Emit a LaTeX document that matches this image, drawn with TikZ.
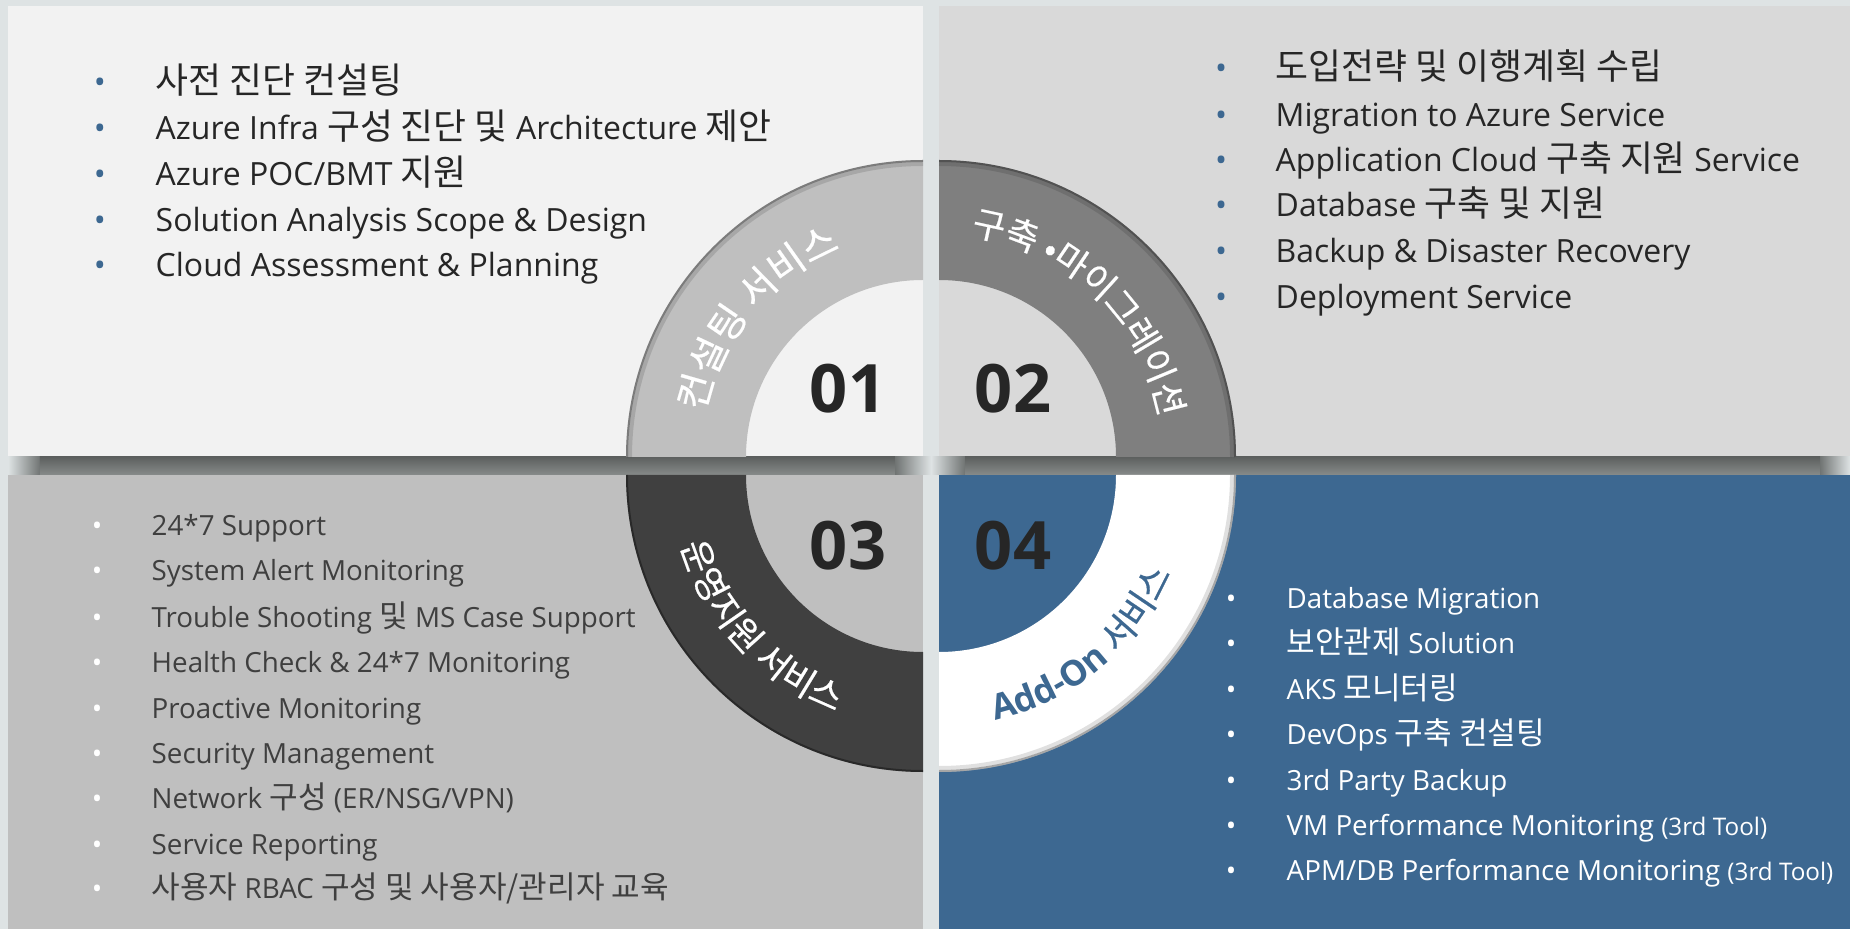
\documentclass[tikz,border=0pt]{standalone}
\usepackage{fontspec}
\setmainfont{Open Sans}
\newfontfamily\kr[Scale=1.12]{Noto Sans CJK KR}
\newfontfamily\krb[Scale=1.12, FakeBold=0.5]{Noto Sans CJK KR}
\usetikzlibrary{decorations.text}

\definecolor{bgc}{HTML}{DEE3E4}
\definecolor{paneltl}{HTML}{F2F2F2}
\definecolor{paneltr}{HTML}{D9D9D9}
\definecolor{panelbl}{HTML}{BFBFBF}
\definecolor{panelbr}{HTML}{3D6891}
\definecolor{ringtl}{HTML}{BFBFBF}
\definecolor{ringtr}{HTML}{7F7F7F}
\definecolor{ringbl}{HTML}{404040}
\definecolor{bandtop}{HTML}{5D605F}
\definecolor{bandbot}{HTML}{878B8A}
\definecolor{bandmid}{HTML}{707473}
\definecolor{ink}{HTML}{262626}
\definecolor{inkbl}{HTML}{3F3F3F}

\newcommand\ringtxt{\krb\fontsize{9}{11}\selectfont}
\newcommand\bigringtxt{\krb\fontsize{9.8}{12}\selectfont}
\newcommand\tooltxt{\fontsize{6.9}{8}\selectfont}

\tikzset{
  item/.style={anchor=base west, inner sep=0pt, font=\fontsize{9.1}{11}\selectfont, text=ink},
  smallitem/.style={item, font=\fontsize{7.9}{9.5}\selectfont},
  dot/.style={anchor=base, inner sep=0pt, font=\fontsize{9.1}{11}\selectfont, text=panelbr},
  smalldot/.style={dot, font=\fontsize{7.9}{9.5}\selectfont, text=white},
  num/.style={inner sep=0pt, font=\fontsize{19}{22}\selectfont\bfseries, text=ink},
  rim/.style={black, line width=0.02cm, opacity=0.35},
  softrim/.style={black, line width=0.04cm, opacity=0.12},
}

\begin{document}
\begin{tikzpicture}
\useasboundingbox (0,0) rectangle (18.5,9.29);
\fill[bgc] (0,0) rectangle (18.5,9.29);

\coordinate (c1) at (9.23,4.72);
\coordinate (c2) at (9.39,4.72);
\coordinate (c3) at (9.23,4.54);
\coordinate (c4) at (9.39,4.54);

\fill[paneltl] (0.08,4.72) rectangle (9.23,9.23);
\fill[paneltr] (9.39,4.72) rectangle (18.5,9.23);
\fill[panelbl] (0.08,0) rectangle (9.23,4.54);
\fill[panelbr] (9.39,0) rectangle (18.5,4.54);

\shade[left color=bgc, right color=bandmid] (0.08,4.54) rectangle (0.40,4.72);
\shade[top color=bandtop, bottom color=bandbot] (0.40,4.54) rectangle (8.95,4.72);
\shade[left color=bandmid, right color=bgc] (8.95,4.54) rectangle (9.31,4.72);
\shade[left color=bgc, right color=bandmid] (9.31,4.54) rectangle (9.65,4.72);
\shade[top color=bandtop, bottom color=bandbot] (9.65,4.54) rectangle (18.2,4.72);
\shade[left color=bandmid, right color=bgc] (18.2,4.54) rectangle (18.5,4.72);

\fill[ringtl] ([shift={(180:2.97)}]c1) arc[start angle=180, end angle=90, radius=2.97]
  -- ([shift={(90:1.77)}]c1) arc[start angle=90, end angle=180, radius=1.77] -- cycle;
\fill[ringtr] ([shift={(90:2.97)}]c2) arc[start angle=90, end angle=0, radius=2.97]
  -- ([shift={(0:1.77)}]c2) arc[start angle=0, end angle=90, radius=1.77] -- cycle;
\fill[ringbl] ([shift={(180:2.97)}]c3) arc[start angle=180, end angle=270, radius=2.97]
  -- ([shift={(270:1.77)}]c3) arc[start angle=270, end angle=180, radius=1.77] -- cycle;
\fill[white] ([shift={(270:2.97)}]c4) arc[start angle=270, end angle=360, radius=2.97]
  -- ([shift={(0:1.77)}]c4) arc[start angle=0, end angle=-90, radius=1.77] -- cycle;

\draw[rim] ([shift={(180:2.96)}]c1) arc[start angle=180, end angle=90, radius=2.96];
\draw[softrim] ([shift={(180:2.93)}]c1) arc[start angle=180, end angle=90, radius=2.93];
\draw[rim] ([shift={(90:2.96)}]c2) arc[start angle=90, end angle=0, radius=2.96];
\draw[softrim] ([shift={(90:2.93)}]c2) arc[start angle=90, end angle=0, radius=2.93];
\draw[rim] ([shift={(180:2.96)}]c3) arc[start angle=180, end angle=270, radius=2.96];
\draw[rim] ([shift={(270:2.96)}]c4) arc[start angle=270, end angle=360, radius=2.96];
\draw[softrim] ([shift={(270:2.93)}]c4) arc[start angle=270, end angle=360, radius=2.93];

\path[decorate, decoration={text along path, text align=center,
  text={|\bigringtxt\color{white}|컨설팅 서비스}}]
  ([shift={(186:2.23)}]c1) arc[start angle=186, end angle=94, radius=2.23];
\path[decorate, decoration={text along path, text align=center,
  text={|\ringtxt\color{white}|구축 •마이그레이션}}]
  ([shift={(92:2.24)}]c2) arc[start angle=92, end angle=0, radius=2.24];
\path[decorate, decoration={text along path, text align=center,
  text={|\ringtxt\color{white}|운영지원 서비스}}]
  ([shift={(178:2.52)}]c3) arc[start angle=178, end angle=268, radius=2.52];
\path[decorate, decoration={text along path, text align=center,
  text={|\fontsize{10}{12}\selectfont\bfseries\color{panelbr}|Add-On |\ringtxt\color{panelbr}|서비스}}]
  ([shift={(265:2.52)}]c4) arc[start angle=265, end angle=355, radius=2.52];

\node[num] (n1) at (8.48,5.40) {01};
\node[num] (n2) at (10.13,5.40) {02};
\node[num] (n3) at (8.48,3.83) {03};
\node[num] (n4) at (10.13,3.83) {04};

\node[dot] (tlb1) at (1.00,8.35) {•};
\node[dot] (tlb2) at (1.00,7.89) {•};
\node[dot] (tlb3) at (1.00,7.43) {•};
\node[dot] (tlb4) at (1.00,6.97) {•};
\node[dot] (tlb5) at (1.00,6.52) {•};
\node[item] (tl1) at (1.55,8.35) {\kr 사전 진단 컨설팅};
\node[item] (tl2) at (1.55,7.89) {Azure Infra {\kr 구성 진단 및} Architecture {\kr 제안}};
\node[item] (tl3) at (1.55,7.43) {Azure POC/BMT {\kr 지원}};
\node[item] (tl4) at (1.55,6.97) {Solution Analysis Scope \& Design};
\node[item] (tl5) at (1.55,6.52) {Cloud Assessment \& Planning};

\node[dot] (trb1) at (12.21,8.49) {•};
\node[dot] (trb2) at (12.21,8.02) {•};
\node[dot] (trb3) at (12.21,7.57) {•};
\node[dot] (trb4) at (12.21,7.12) {•};
\node[dot] (trb5) at (12.21,6.66) {•};
\node[dot] (trb6) at (12.21,6.20) {•};
\node[item] (tr1) at (12.75,8.49) {\kr 도입전략 및 이행계획 수립};
\node[item] (tr2) at (12.75,8.02) {Migration to Azure Service};
\node[item] (tr3) at (12.75,7.57) {Application Cloud {\kr 구축 지원} Service};
\node[item] (tr4) at (12.75,7.12) {Database {\kr 구축 및 지원}};
\node[item] (tr5) at (12.75,6.66) {Backup \& Disaster Recovery};
\node[item] (tr6) at (12.75,6.20) {Deployment Service};

\node[smalldot] (blb1) at (0.97,3.93) {•};
\node[smalldot] (blb2) at (0.97,3.48) {•};
\node[smalldot] (blb3) at (0.97,3.02) {•};
\node[smalldot] (blb4) at (0.97,2.57) {•};
\node[smalldot] (blb5) at (0.97,2.11) {•};
\node[smalldot] (blb6) at (0.97,1.66) {•};
\node[smalldot] (blb7) at (0.97,1.21) {•};
\node[smalldot] (blb8) at (0.97,0.75) {•};
\node[smalldot] (blb9) at (0.97,0.31) {•};
\node[smallitem, text=inkbl] (bl1) at (1.51,3.93) {24*7 Support};
\node[smallitem, text=inkbl] (bl2) at (1.51,3.48) {System Alert Monitoring};
\node[smallitem, text=inkbl] (bl3) at (1.51,3.02) {Trouble Shooting {\kr 및} MS Case Support};
\node[smallitem, text=inkbl] (bl4) at (1.51,2.57) {Health Check \& 24*7 Monitoring};
\node[smallitem, text=inkbl] (bl5) at (1.51,2.11) {Proactive Monitoring};
\node[smallitem, text=inkbl] (bl6) at (1.51,1.66) {Security Management};
\node[smallitem, text=inkbl] (bl7) at (1.51,1.21) {Network {\kr 구성} (ER/NSG/VPN)};
\node[smallitem, text=inkbl] (bl8) at (1.51,0.75) {Service Reporting};
\node[smallitem, text=inkbl] (bl9) at (1.51,0.31) {{\kr 사용자} RBAC {\kr 구성 및 사용자/관리자 교육}};

\node[smalldot] (brb1) at (12.31,3.21) {•};
\node[smalldot] (brb2) at (12.31,2.76) {•};
\node[smalldot] (brb3) at (12.31,2.30) {•};
\node[smalldot] (brb4) at (12.31,1.85) {•};
\node[smalldot] (brb5) at (12.31,1.39) {•};
\node[smalldot] (brb6) at (12.31,0.94) {•};
\node[smalldot] (brb7) at (12.31,0.49) {•};
\node[smallitem, text=white] (br1) at (12.86,3.21) {Database Migration};
\node[smallitem, text=white] (br2) at (12.86,2.76) {{\kr 보안관제} Solution};
\node[smallitem, text=white] (br3) at (12.86,2.30) {AKS {\kr 모니터링}};
\node[smallitem, text=white] (br4) at (12.86,1.85) {DevOps {\kr 구축 컨설팅}};
\node[smallitem, text=white] (br5) at (12.86,1.39) {3rd Party Backup};
\node[smallitem, text=white] (br6) at (12.86,0.94) {VM Performance Monitoring {\tooltxt(3rd Tool)}};
\node[smallitem, text=white] (br7) at (12.86,0.49) {APM/DB Performance Monitoring {\tooltxt(3rd Tool)}};
\end{tikzpicture}
\end{document}
